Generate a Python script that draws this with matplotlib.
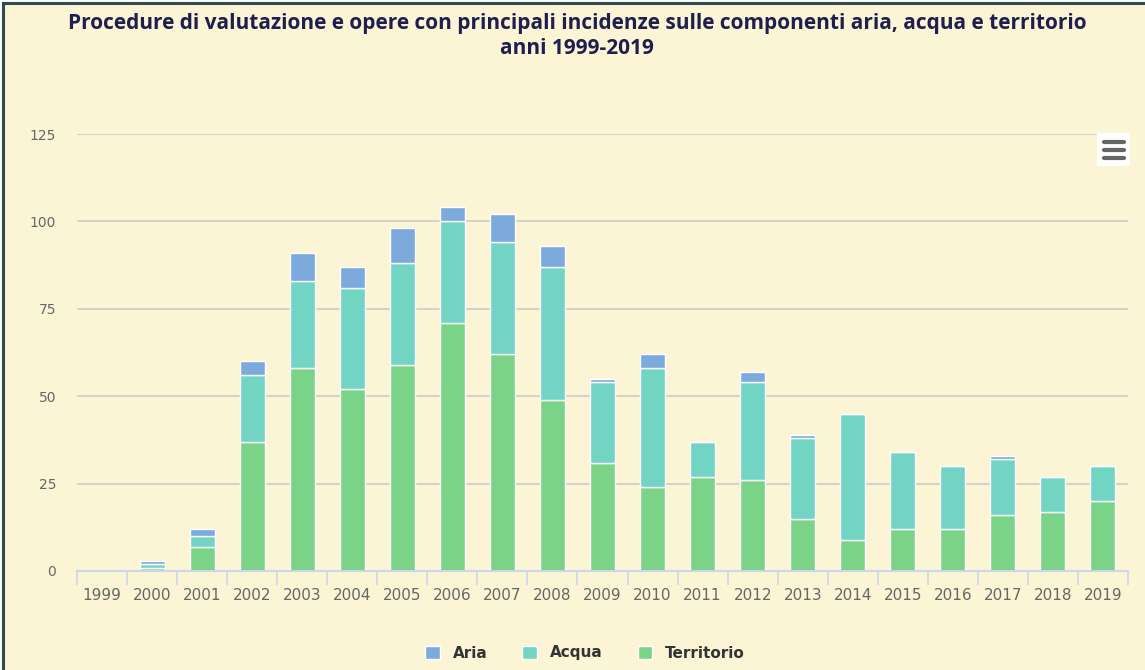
import matplotlib
matplotlib.use("Agg")
import matplotlib.pyplot as plt
from matplotlib.patches import Rectangle
import numpy as np

years = ["1999", "2000", "2001", "2002", "2003", "2004", "2005", "2006", "2007", "2008",
         "2009", "2010", "2011", "2012", "2013", "2014", "2015", "2016", "2017", "2018", "2019"]
territorio = [0, 1, 7, 37, 58, 52, 59, 71, 62, 49, 31, 24, 27, 26, 15, 9, 12, 12, 16, 17, 20]
acqua = [0, 1, 3, 19, 25, 29, 29, 29, 32, 38, 23, 34, 10, 28, 23, 36, 22, 18, 16, 10, 10]
aria = [0, 1, 2, 4, 8, 6, 10, 4, 8, 6, 1, 4, 0, 3, 1, 0, 0, 0, 1, 0, 0]
yticks = [0, 25, 50, 75, 100, 125]

title = "Procedure di valutazione e opere con principali incidenze sulle componenti aria, acqua e territorio\nanni 1999-2019"

BG = "#fbf4d5"
C_ARIA = "#7caadc"
C_ACQUA = "#72d4c3"
C_TERR = "#7ad386"

W, H = 1145, 670
fig = plt.figure(figsize=(W / 100, H / 100), dpi=100, facecolor=BG)

# white margin + dark border on top / left
fig.add_artist(Rectangle((0, 0), 2 / W, 1, transform=fig.transFigure,
                         facecolor="white", edgecolor="none", zorder=0))
fig.add_artist(Rectangle((0, 1 - 2 / H), 1, 2 / H, transform=fig.transFigure,
                         facecolor="white", edgecolor="none", zorder=0))
fig.add_artist(plt.Line2D([3 / W, 3 / W], [0, 1 - 3 / H], transform=fig.transFigure,
                          color="#2f4a50", lw=2.2, zorder=1))
fig.add_artist(plt.Line2D([3 / W, 1], [1 - 3 / H, 1 - 3 / H], transform=fig.transFigure,
                          color="#2f4a50", lw=2.2, zorder=1))

left, right = 77 / W, 1128 / W
bottom, top = (H - 571) / H, (H - 134) / H
ax = fig.add_axes([left, bottom, right - left, top - bottom])
ax.set_facecolor("none")
ax.set_zorder(2)

x = np.arange(len(years))
t = np.array(territorio)
a = np.array(acqua)
r = np.array(aria)
bw = 0.5
kw = dict(width=bw, edgecolor="white", linewidth=1.0, zorder=3)
ax.bar(x, t, color=C_TERR, label="Territorio", **kw)
ax.bar(x, a, bottom=t, color=C_ACQUA, label="Acqua", **kw)
ax.bar(x, r, bottom=t + a, color=C_ARIA, label="Aria", **kw)

ax.set_xlim(-0.5, len(years) - 0.5)
ax.set_ylim(0, 125)
ax.set_yticks(yticks)
ax.set_yticklabels([str(v) for v in yticks], fontsize=10, color="#666666")
ax.tick_params(axis="y", length=0, pad=15)
ax.yaxis.grid(True, color="#cccccc", lw=1.2, zorder=0)
ax.set_axisbelow(True)

ax.set_xticks(x)
ax.set_xticklabels(years, fontsize=11, color="#666666")
ax.tick_params(axis="x", length=0, pad=12)
ax.set_xticks(np.arange(-0.5, len(years)), minor=True)
ax.tick_params(axis="x", which="minor", length=10, width=1.2, color="#ccd6eb", direction="out")

for s in ["top", "right", "left"]:
    ax.spines[s].set_visible(False)
ax.spines["bottom"].set_color("#ccd6eb")
ax.spines["bottom"].set_linewidth(1.5)
ax.spines["bottom"].set_zorder(4)

fig.text(577 / W, 1 - 36 / H, title, ha="center", va="center", fontsize=15,
         fontweight="bold", color="#1f1f4f", family="Open Sans", linespacing=1.25)

# legend
handles, labels = ax.get_legend_handles_labels()
order = [2, 1, 0]
leg = fig.legend([handles[i] for i in order], [labels[i] for i in order],
                 loc="center", bbox_to_anchor=(585 / W, 1 - 653 / H), ncol=3,
                 frameon=False, handlelength=0.95, handleheight=0.95, columnspacing=2.3,
                 handletextpad=0.85, prop={"weight": "bold", "size": 11})
for txt in leg.get_texts():
    txt.set_color("#333333")

# context menu icon
fig.add_artist(Rectangle((1097 / W, 1 - 166 / H), 33 / W, 33 / H,
                         transform=fig.transFigure, facecolor="white",
                         edgecolor="none", zorder=5))
for yy in [142, 150, 158]:
    fig.add_artist(plt.Line2D([1104 / W, 1124 / W], [1 - yy / H, 1 - yy / H],
                              transform=fig.transFigure, color="#666666", lw=3.0,
                              solid_capstyle="round", zorder=6))

fig.savefig("out.png", dpi=100, facecolor=BG)
